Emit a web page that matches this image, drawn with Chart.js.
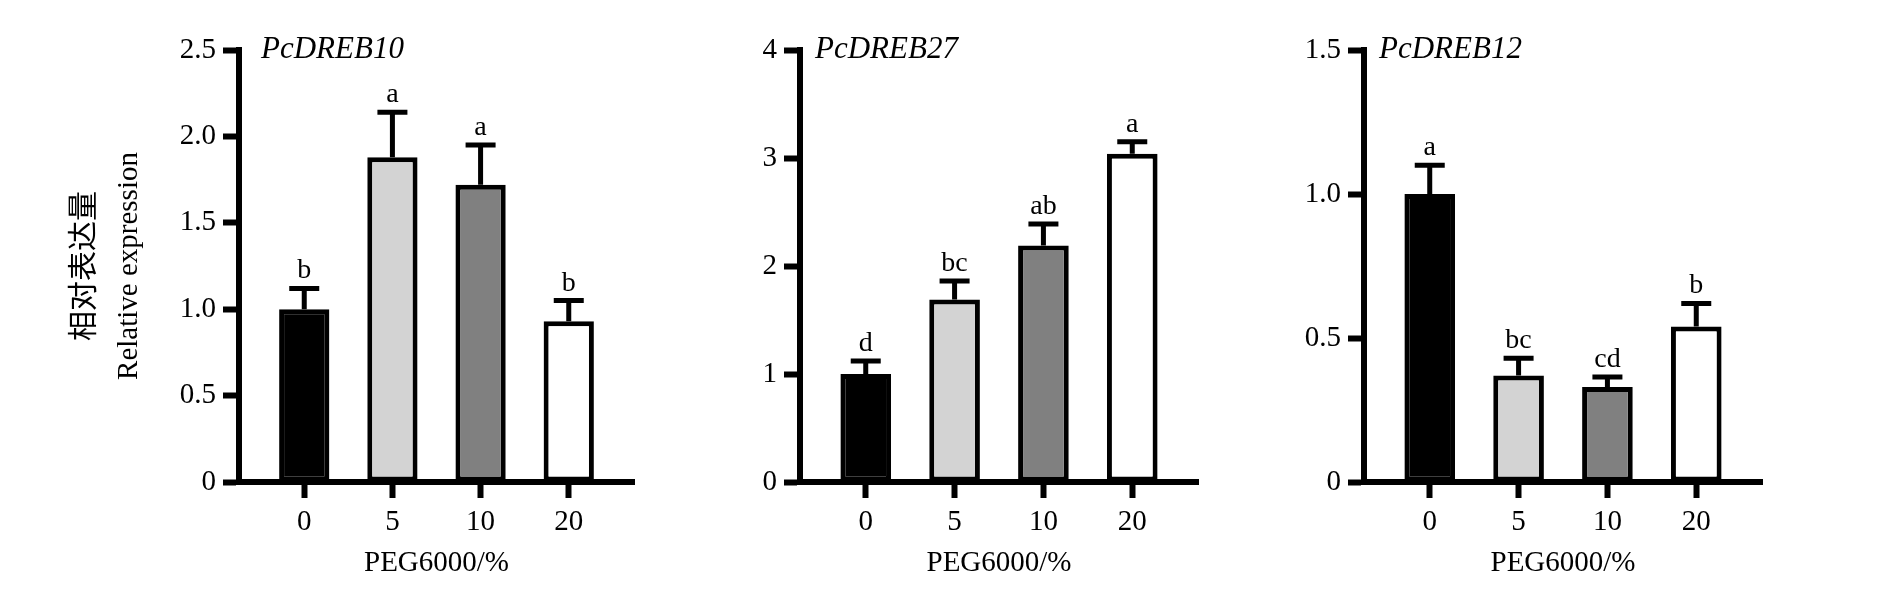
<!DOCTYPE html>
<html>
<head>
<meta charset="utf-8">
<script src="https://cdn.jsdelivr.net/npm/chart.js@4.4.1/dist/chart.umd.min.js"></script>
<style>
  body { margin: 0; background: #fff; width: 1890px; height: 606px; position: relative; overflow: hidden; }
  canvas { position: absolute; top: 0; }
</style>
</head>
<body>
<canvas id="dreb10" width="660" height="606" style="left:0"></canvas>
<canvas id="dreb27" width="600" height="606" style="left:660px"></canvas>
<canvas id="dreb12" width="630" height="606" style="left:1260px"></canvas>
<script>
'use strict';

// PEG6000 concentration groups and bar fills
var doses = ['0', '5', '10', '20'];
var fills = ['#000000', '#d3d3d3', '#808080', '#ffffff'];

// PcDREB10
var dreb10Mean = [1.00, 1.88, 1.72, 0.93];
var dreb10Sd = [0.12, 0.26, 0.23, 0.12];
var dreb10Letters = ['b', 'a', 'a', 'b'];
var dreb10Ticks = ['0', '0.5', '1.0', '1.5', '2.0', '2.5'];

// PcDREB27
var dreb27Mean = [1.00, 1.69, 2.19, 3.04];
var dreb27Sd = [0.12, 0.17, 0.20, 0.11];
var dreb27Letters = ['d', 'bc', 'ab', 'a'];
var dreb27Ticks = ['0', '1', '2', '3', '4'];

// PcDREB12
var dreb12Mean = [1.00, 0.37, 0.33, 0.54];
var dreb12Sd = [0.10, 0.06, 0.035, 0.08];
var dreb12Letters = ['a', 'bc', 'cd', 'b'];
var dreb12Ticks = ['0', '0.5', '1.0', '1.5'];

var yTitleCn = '相对表达量';
var yTitleEn = 'Relative expression';
var xTitle = 'PEG6000/%';

var SERIF = '"Liberation Serif", "Noto Sans CJK SC", serif';
Chart.defaults.font.family = SERIF;
Chart.defaults.color = '#000';

//
// Error bars (upper arm only), significance letters, gene name and the
// Chinese half of the y title.
//
var extras = {
  id: 'extras',
  afterDatasetsDraw: function afterDatasetsDraw(chart, args, opts) {
    var ctx = chart.ctx
      , y = chart.scales.y
      , area = chart.chartArea;

    ctx.save();
    ctx.strokeStyle = '#000';
    ctx.fillStyle = '#000';
    ctx.lineWidth = 5;

    chart.getDatasetMeta(0).data.forEach(function each(bar, i) {
      var top = y.getPixelForValue(opts.mean[i] + opts.sd[i]);

      ctx.beginPath();
      ctx.moveTo(bar.x, bar.y);
      ctx.lineTo(bar.x, top);
      ctx.moveTo(bar.x - 15, top);
      ctx.lineTo(bar.x + 15, top);
      ctx.stroke();

      ctx.font = '28px ' + SERIF;
      ctx.textAlign = 'center';
      ctx.textBaseline = 'alphabetic';
      ctx.fillText(opts.letters[i], bar.x, top - 10);
    });

    ctx.font = 'italic 31px ' + SERIF;
    ctx.textAlign = 'left';
    ctx.textBaseline = 'middle';
    ctx.fillText(opts.gene, area.left + opts.dx, area.top);

    if (opts.cn) {
      ctx.translate(82, (area.top + area.bottom) / 2);
      ctx.rotate(-Math.PI / 2);
      ctx.font = '30px "Noto Sans CJK SC"';
      ctx.textAlign = 'center';
      ctx.fillText(opts.cn, 0, 0);
    }
    ctx.restore();
  }
};

function axisLine() {
  return { display: true, color: '#000', width: 6 };
}

function axisGrid() {
  return {
    display: true,
    offset: false,
    drawOnChartArea: false,
    drawTicks: true,
    tickLength: 16,
    tickWidth: 6,
    tickColor: '#000'
  };
}

/**
 * Draw one panel.
 *
 * @param {String} id canvas id
 * @param {Object} d data for the panel
 * @param {Object} box chart-area placement inside the canvas
 */
function panel(id, d, box) {
  return new Chart(document.getElementById(id), {
    type: 'bar',
    data: {
      datasets: [{
        data: d.mean.map(function (v, i) { return { x: i, y: v }; }),
        backgroundColor: fills,
        borderColor: '#000',
        borderWidth: 5,
        borderSkipped: false,
        barPercentage: 0.57,
        categoryPercentage: 1
      }]
    },
    options: {
      responsive: false,
      animation: false,
      events: [],
      layout: { padding: { left: 0, right: box.right, top: 50, bottom: 0 } },
      plugins: {
        legend: { display: false },
        tooltip: { enabled: false },
        extras: {
          gene: d.gene, mean: d.mean, sd: d.sd, letters: d.letters,
          dx: box.dx, cn: box.title ? yTitleCn : null
        }
      },
      scales: {
        x: {
          type: 'linear',
          offset: false,
          min: -0.74,
          max: 3.74,
          border: axisLine(),
          grid: axisGrid(),
          ticks: {
            stepSize: 1,
            includeBounds: false,
            maxRotation: 0,
            padding: 7,
            color: '#000',
            font: { size: 29 },
            callback: function (v) { return doses[v]; }
          },
          title: {
            display: true,
            text: xTitle,
            color: '#000',
            font: { size: 29 },
            padding: { top: 0, bottom: 25 }
          },
          afterFit: function (s) { s.height = 124; }
        },
        y: {
          min: 0,
          max: d.max,
          border: axisLine(),
          grid: axisGrid(),
          ticks: {
            stepSize: d.max / (d.ticks.length - 1),
            padding: 7,
            color: '#000',
            font: { size: 29 },
            callback: function (v, i) { return d.ticks[i]; }
          },
          title: {
            display: !!box.title,
            text: yTitleEn,
            color: '#000',
            font: { size: 29 },
            padding: { top: 112, bottom: 0 }
          },
          afterFit: function (s) { s.width = box.left; }
        }
      }
    },
    plugins: [extras]
  });
}

panel('dreb10', {
  gene: 'PcDREB10', mean: dreb10Mean, sd: dreb10Sd, letters: dreb10Letters,
  ticks: dreb10Ticks, max: 2.5
}, { left: 239, right: 26, dx: 22, title: true });

panel('dreb27', {
  gene: 'PcDREB27', mean: dreb27Mean, sd: dreb27Sd, letters: dreb27Letters,
  ticks: dreb27Ticks, max: 4
}, { left: 140, right: 62, dx: 15 });

panel('dreb12', {
  gene: 'PcDREB12', mean: dreb12Mean, sd: dreb12Sd, letters: dreb12Letters,
  ticks: dreb12Ticks, max: 1.5
}, { left: 104, right: 128, dx: 15 });
</script>
</body>
</html>
